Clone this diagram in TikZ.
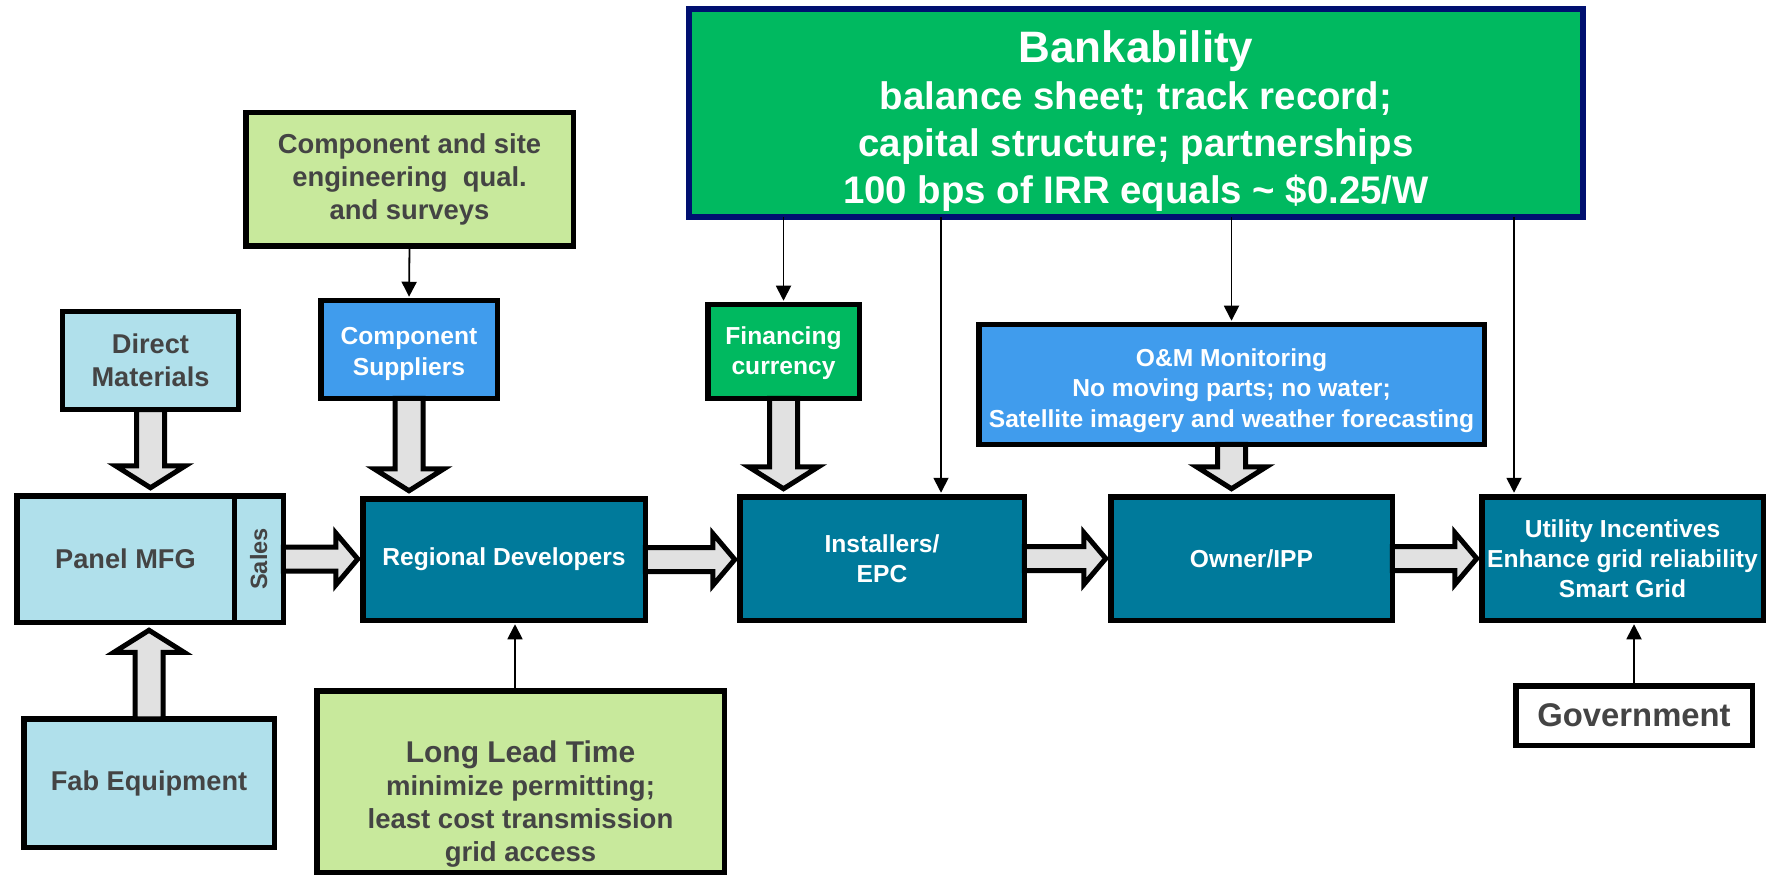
\documentclass[tikz,border=0pt]{standalone}
\usepackage{fontspec}
\setmainfont{Liberation Sans}
\usepackage{graphicx}
\usepackage{tikz}
\usetikzlibrary{calc, positioning, arrows.meta}
\definecolor{paleblue}{RGB}{176,224,235}
\definecolor{palegreen}{RGB}{200,233,156}
\definecolor{skyblue}{RGB}{64,156,237}
\definecolor{tealblue}{RGB}{0,122,155}
\definecolor{bankgreen}{RGB}{0,185,96}
\definecolor{banknavy}{RGB}{0,16,112}
\definecolor{arrowgray}{RGB}{225,225,225}
\definecolor{darktext}{RGB}{68,68,68}

\begin{document}
\begin{tikzpicture}[x=1pt, y=-1pt,
		blockbox/.style={draw=black, line width=5.5pt, inner sep=1pt, outer sep=0pt, align=center},
		lightbox/.style={blockbox, fill=paleblue, text=darktext, font=\bfseries\fontsize{27.2}{33}\selectfont},
		greenbox/.style={blockbox, fill=palegreen, text=darktext, font=\bfseries\fontsize{27.4}{33}\selectfont},
		bluebox/.style={blockbox, fill=skyblue, text=white, font=\bfseries\fontsize{24.6}{30.5}\selectfont},
		tealbox/.style={blockbox, fill=tealblue, text=white, font=\bfseries\fontsize{24.6}{30}\selectfont},
		feedline/.style={line width=1.8pt, shorten >=4pt, -{Triangle[length=15pt, width=15pt]}},
		fatarrow/.style n args={4}{draw=black, fill=arrowgray, line width=5pt, line join=miter,
			to path={let \p1=(\tikztostart), \p2=(\tikztotarget),
				\n1={veclen(\x2-\x1,\y2-\y1)-#4}, \n2={atan2(\y2-\y1,\x2-\x1)}, \n3={\n1-#3} in
				($(\p1)+(\n2+90:#1pt)$) -- ($(\p1)+(\n2:\n3)+(\n2+90:#1pt)$)
				-- ($(\p1)+(\n2:\n3)+(\n2+90:#2pt)$) -- ($(\p1)+(\n2:\n1)$)
				-- ($(\p1)+(\n2:\n3)+(\n2-90:#2pt)$) -- ($(\p1)+(\n2:\n3)+(\n2-90:#1pt)$)
				-- ($(\p1)+(\n2-90:#1pt)$) -- cycle}},
		vfat/.style={fatarrow={14}{35}{22}{8}},
		hfat/.style={fatarrow={12}{26}{22}{5}}]
		\useasboundingbox (0,0) rectangle (1767,877);
		
		% supply side
		\node[lightbox, minimum width=176pt, minimum height=98pt] (dm) at (150.5,360.5) {Direct\\Materials};
		\node[lightbox, minimum width=217.5pt, minimum height=126.5pt] (pm) at (125.5,559) {Panel MFG};
		\node[lightbox, right=0pt of pm, minimum width=49pt, minimum height=126.5pt, font=\bfseries\fontsize{23.6}{28}\selectfont] (sales) {\rotatebox{90}{Sales}};
		\node[lightbox, minimum width=250.5pt, minimum height=128.5pt] (fab) at (149,783) {Fab Equipment};
		\node[greenbox, minimum width=327.5pt, minimum height=133.5pt] (csite) at (409.5,179.5) {Component and site\\engineering\ \ qual.\\and surveys};
		\node[bluebox, minimum width=176.5pt, minimum height=97.5pt] (cs) at (409,349.5) {\rule{0pt}{26pt}Component\\Suppliers};
		\node[tealbox, minimum width=282.5pt, minimum height=121.5pt] (rd) at (504,559.5) {Regional Developers};
		\node[greenbox, minimum width=407.5pt, minimum height=181.5pt] (ll) at (520.5,781.5) {};
		\node[text=darktext, align=center, font=\bfseries\fontsize{27.5}{33}\selectfont] (lltext) at ([yshift=-23pt]ll.center) {{\fontsize{30}{33}\selectfont Long Lead Time}\\minimize permitting;\\least cost transmission\\grid access};
		
		% finance side
		\node[blockbox, draw=banknavy, line width=6pt, fill=bankgreen, text=white, minimum width=894pt, minimum height=208pt, font=\bfseries\fontsize{38.4}{46.8}\selectfont] (bank) at (1136,113) {{\fontsize{44}{46.8}\selectfont\rule{0pt}{48pt}Bankability}\\balance sheet; track record;\\capital structure; partnerships\\100 bps of IRR equals \textasciitilde{} \$0.25/W};
		\node[blockbox, fill=bankgreen, text=white, font=\bfseries\fontsize{24.6}{30}\selectfont, minimum width=151.5pt, minimum height=93.5pt] (fin) at (783.5,351.5) {\rule{0pt}{22pt}Financing\\currency};
		\node[tealbox, minimum width=284.5pt, minimum height=123.5pt] (inst) at (882,558.5) {Installers/\\EPC};
		\node[bluebox, minimum width=505.5pt, minimum height=119.5pt] (om) at (1231.5,384.5) {\rule{0pt}{30pt}O\&M Monitoring\\No moving parts; no water;\\Satellite imagery and weather forecasting};
		\node[tealbox, minimum width=281.5pt, minimum height=123.5pt] (own) at (1251.5,558.5) {Owner/IPP};
		\node[tealbox, minimum width=281.5pt, minimum height=123.5pt] (util) at (1622.5,558.5) {Utility Incentives\\Enhance grid reliability\\Smart Grid};
		\node[blockbox, fill=white, text=darktext, font=\bfseries\fontsize{32.8}{36}\selectfont, minimum width=236.5pt, minimum height=59.5pt] (gov) at (1634,715.5) {Government};
		
		\coordinate (instin) at ([xshift=59pt]inst.north);
		\coordinate (utilin) at ([xshift=-108.5pt]util.north);
		\coordinate (rdin) at ([xshift=11pt]rd.south);
		
		\draw[feedline] (csite.south) -- (cs.north);
		\draw[feedline] (bank.south -| fin.north) -- (fin.north);
		\draw[feedline] (bank.south -| instin) -- (instin);
		\draw[feedline] (bank.south -| om.north) -- (om.north);
		\draw[feedline] (bank.south -| utilin) -- (utilin);
		\draw[feedline] (ll.north -| rdin) -- (rdin);
		\draw[feedline] (gov.north) -- (gov.north |- util.south);
		
		\draw[vfat] (dm.south) to (dm.south |- pm.north);
		\draw[vfat] (fab.north) to (fab.north |- pm.south);
		\draw[vfat] (cs.south) to (cs.south |- rd.north);
		\draw[vfat] (fin.south) to (fin.south |- inst.north);
		\draw[vfat] (om.south) to (om.south |- own.north);
		\draw[hfat] (sales.east) to (sales.east -| rd.west);
		\draw[hfat] (rd.east) to (rd.east -| inst.west);
		\draw[hfat] (inst.east) to (inst.east -| own.west);
		\draw[hfat] (own.east) to (own.east -| util.west);
		\end{tikzpicture}
\end{document}
